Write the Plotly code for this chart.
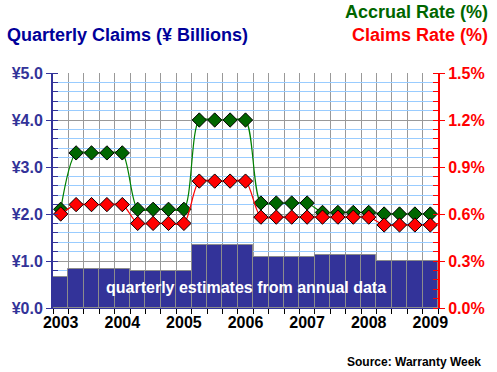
import plotly.graph_objects as go

quarters = list(range(25))
year_labels = ["2003", "2004", "2005", "2006", "2007", "2008", "2009"]
year_positions = [0, 4, 8, 12, 16, 20, 24]

claims_bn = [0.67, 0.82, 0.82, 0.82, 0.82, 0.78, 0.78, 0.78, 0.78,
             1.33, 1.33, 1.33, 1.33, 1.08, 1.08, 1.08, 1.08,
             1.13, 1.13, 1.13, 1.13, 1.01, 1.01, 1.01, 1.01]
accrual_rate = [0.63, 0.99, 0.99, 0.99, 0.99, 0.63, 0.63, 0.63, 0.63,
                1.20, 1.20, 1.20, 1.20, 0.67, 0.67, 0.67, 0.67,
                0.61, 0.61, 0.61, 0.61, 0.60, 0.60, 0.60, 0.60]
claims_rate = [0.60, 0.66, 0.66, 0.66, 0.66, 0.54, 0.54, 0.54, 0.54,
               0.81, 0.81, 0.81, 0.81, 0.58, 0.58, 0.58, 0.58,
               0.58, 0.58, 0.58, 0.58, 0.53, 0.53, 0.53, 0.53]

FONT = "Liberation Sans, Arial, sans-serif"
xc = [q + 0.5 for q in quarters]

fig = go.Figure()
fig.add_trace(go.Bar(x=xc, y=claims_bn, width=1, marker=dict(color="#333399", line=dict(color="#8c8c8c", width=1)),
                     yaxis="y", showlegend=False, hoverinfo="skip"))
fig.add_trace(go.Scatter(x=xc, y=accrual_rate, yaxis="y2", mode="lines+markers",
                         line=dict(color="#008000", width=1.2, shape="spline", smoothing=0.8),
                         marker=dict(symbol="diamond", size=11, color="#006600", line=dict(color="black", width=1)),
                         showlegend=False))
fig.add_trace(go.Scatter(x=xc, y=claims_rate, yaxis="y2", mode="lines+markers",
                         line=dict(color="#ff0000", width=1.2, shape="spline", smoothing=0.8),
                         marker=dict(symbol="diamond", size=11, color="#ff0000", line=dict(color="black", width=1)),
                         showlegend=False))

fig.update_layout(
    width=497, height=372,
    margin=dict(l=52, r=56, t=73, b=64),
    paper_bgcolor="white", plot_bgcolor="white",
    bargap=0,
    xaxis=dict(range=[0, 25], tickmode="array", tickvals=[p + 0.5 for p in year_positions], ticktext=year_labels,
               ticks="", showgrid=False, zeroline=False, showline=True, linecolor="#333399", linewidth=1,
               tickfont=dict(family=FONT, size=16, color="black", weight="bold"),
               minor=dict(tickmode="array", tickvals=list(range(26)), showgrid=True, gridcolor="#999999",
                          gridwidth=1, ticks="outside", ticklen=5, tickcolor="black"),
               fixedrange=True),
    yaxis=dict(range=[0, 5], dtick=1, tickprefix="¥", tickformat=".1f", showgrid=True, gridcolor="#999999",
               zeroline=False, showline=True, linecolor="#333399", linewidth=2, ticks="outside", ticklen=5,
               tickcolor="#333399", tickfont=dict(family=FONT, size=16, color="#333399", weight="bold"),
               minor=dict(dtick=0.2, showgrid=True, gridcolor="#99ccff", ticks="inside", ticklen=5,
                          tickcolor="#333399"),
               fixedrange=True),
    yaxis2=dict(range=[0, 1.5], dtick=0.3, ticksuffix="%", tickformat=".1f", overlaying="y", side="right",
                showgrid=False, zeroline=False, showline=True, linecolor="#ff0000", linewidth=2,
                ticks="outside", ticklen=5, tickcolor="#ff0000",
                tickfont=dict(family=FONT, size=16, color="#ff0000", weight="bold"),
                minor=dict(dtick=0.06, ticks="inside", ticklen=5, tickcolor="#ff0000"),
                fixedrange=True),
    annotations=[
        dict(text="Quarterly Claims (¥ Billions)", xref="paper", yref="paper", x=-49/389, y=(308-35)/235,
             xanchor="left", yanchor="middle", showarrow=False,
             font=dict(family=FONT, size=18, color="#000099", weight="bold")),
        dict(text="Accrual Rate (%)", xref="paper", yref="paper", x=(494-52)/389, y=(308-12)/235,
             xanchor="right", yanchor="middle", showarrow=False,
             font=dict(family=FONT, size=18, color="#006600", weight="bold")),
        dict(text="Claims Rate (%)", xref="paper", yref="paper", x=(494-52)/389, y=(308-35)/235,
             xanchor="right", yanchor="middle", showarrow=False,
             font=dict(family=FONT, size=18, color="#ff0000", weight="bold")),
        dict(text="quarterly estimates from annual data", xref="paper", yref="paper", x=(247-52)/389,
             y=(308-287)/235, xanchor="center", yanchor="middle", showarrow=False,
             font=dict(family=FONT, size=16, color="white", weight="bold")),
        dict(text="Source: Warranty Week", xref="paper", yref="paper", x=(486-52)/389, y=(308-362)/235,
             xanchor="right", yanchor="middle", showarrow=False,
             font=dict(family=FONT, size=12, color="black", weight="bold")),
    ],
)

fig.write_html("out.html", config={"displayModeBar": False},
               post_script="document.body.style.margin='0';document.body.style.overflow='hidden';")
